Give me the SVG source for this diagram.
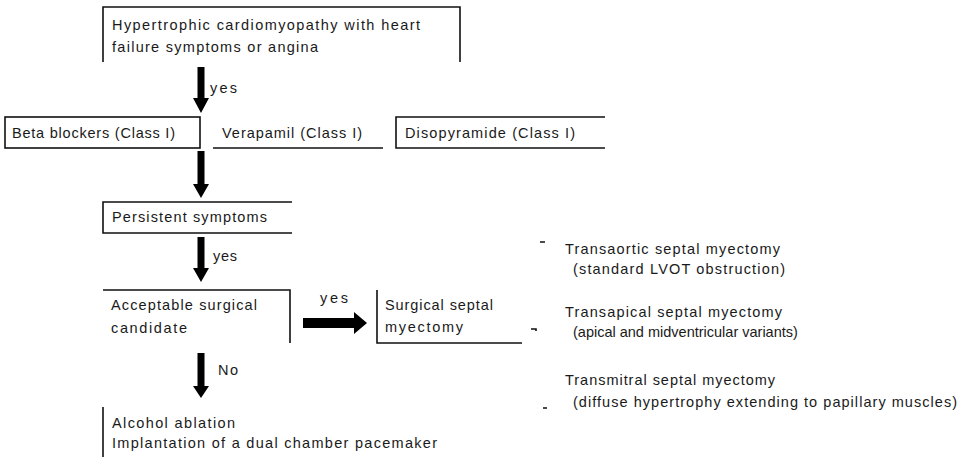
<svg xmlns="http://www.w3.org/2000/svg" width="971" height="457" viewBox="0 0 971 457">
<style>
.t{font-family:"Liberation Sans",Arial,sans-serif;font-size:14.5px;fill:#1a1a1a}
.ln{fill:none;stroke:#111;stroke-width:1.6}
.ar{fill:#000}
</style>
<rect width="971" height="457" fill="#fff"/>
<g id="node-hcm">
<path class="ln" d="M103,62 V7 H460 V62"/>
<text class="t" x="112" y="30" textLength="308" lengthAdjust="spacing">Hypertrophic cardiomyopathy with heart</text>
<text class="t" x="112" y="52" textLength="206" lengthAdjust="spacing">failure symptoms or angina</text>
</g>
<g id="node-beta">
<rect class="ln" x="5" y="117" width="195" height="31"/>
<text class="t" x="12" y="138" textLength="163" lengthAdjust="spacing">Beta blockers (Class I)</text>
</g>
<g id="node-verapamil">
<path class="ln" d="M213,148 H383"/>
<text class="t" x="222" y="138" textLength="140" lengthAdjust="spacing">Verapamil (Class I)</text>
</g>
<g id="node-diso">
<path class="ln" d="M605,117 H396 V148 H605"/>
<text class="t" x="405" y="138" textLength="170" lengthAdjust="spacing">Disopyramide (Class I)</text>
</g>
<g id="node-persistent">
<path class="ln" d="M292,202 H103 V233 H292"/>
<text class="t" x="112" y="222" textLength="155" lengthAdjust="spacing">Persistent symptoms</text>
</g>
<g id="node-candidate">
<path class="ln" d="M103,290 H290 V343"/>
<text class="t" x="111" y="310" textLength="146" lengthAdjust="spacing">Acceptable surgical</text>
<text class="t" x="111" y="333" textLength="76" lengthAdjust="spacing">candidate</text>
</g>
<g id="node-surgical">
<path class="ln" d="M377,290 V343 H522"/>
<text class="t" x="385" y="310" textLength="108" lengthAdjust="spacing">Surgical septal</text>
<text class="t" x="385" y="332" textLength="78" lengthAdjust="spacing">myectomy</text>
</g>
<g id="node-options">
<path class="ln" d="M540,242 H545 M531,329 H536 V331 M543,408 H547"/>
<text class="t" x="565" y="254" textLength="215" lengthAdjust="spacing">Transaortic septal myectomy</text>
<text class="t" x="573" y="274" textLength="212" lengthAdjust="spacing">(standard LVOT obstruction)</text>
<text class="t" x="565" y="317" textLength="217" lengthAdjust="spacing">Transapical septal myectomy</text>
<text class="t" x="573" y="337">(apical and midventricular variants)</text>
<text class="t" x="565" y="385" textLength="210" lengthAdjust="spacing">Transmitral septal myectomy</text>
<text class="t" x="573" y="407" textLength="384" lengthAdjust="spacing">(diffuse hypertrophy extending to papillary muscles)</text>
</g>
<g id="node-alcohol">
<path class="ln" d="M103,407 V457"/>
<text class="t" x="112" y="428" textLength="123" lengthAdjust="spacing">Alcohol ablation</text>
<text class="t" x="112" y="448" textLength="325" lengthAdjust="spacing">Implantation of a dual chamber pacemaker</text>
</g>
<g id="connectors">
<polygon class="ar" points="197.5,67 204.5,67 204.5,98 209,98 201,113 193,98 197.5,98"/>
<text class="t" x="210" y="93" textLength="27" lengthAdjust="spacing">yes</text>
<polygon class="ar" points="197.5,151 204.5,151 204.5,184 209,184 201,198 193,184 197.5,184"/>
<polygon class="ar" points="197.5,237 204.5,237 204.5,268 209,268 201,282 193,268 197.5,268"/>
<text class="t" x="213" y="261" textLength="24" lengthAdjust="spacing">yes</text>
<polygon class="ar" points="303,318 354,318 354,312 367,323 354,334 354,328 303,328"/>
<text class="t" x="320" y="303" textLength="28" lengthAdjust="spacing">yes</text>
<polygon class="ar" points="197.5,353 204.5,353 204.5,386 209,386 201,398 193,386 197.5,386"/>
<text class="t" x="218" y="375" textLength="20" lengthAdjust="spacing">No</text>
</g>
</svg>
